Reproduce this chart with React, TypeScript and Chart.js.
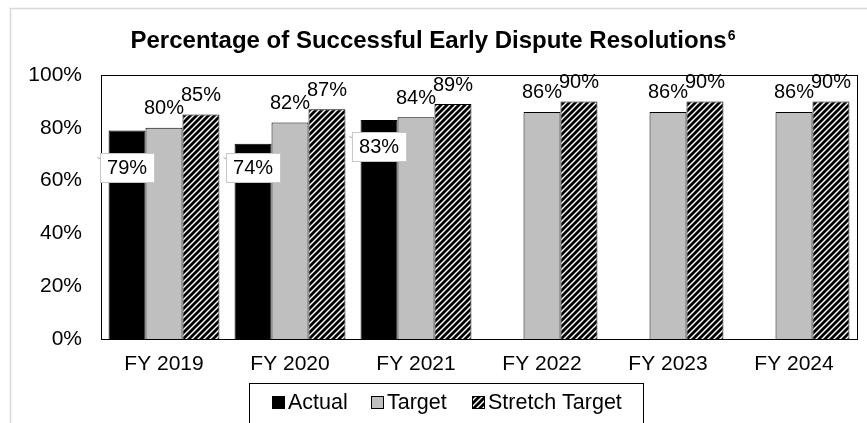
import React, { useEffect, useRef } from "react";
import { Chart, registerables } from "chart.js";

Chart.register(...registerables);

const categories = ["FY 2019", "FY 2020", "FY 2021", "FY 2022", "FY 2023", "FY 2024"];
const actual = [79, 74, 83, null, null, null];
const target = [80, 82, 84, 86, 86, 86];
const stretch = [85, 87, 89, 90, 90, 90];
const yTicks = [0, 20, 40, 60, 80, 100];
const seriesNames = ["Actual", "Target", "Stretch Target"];
const titleText = "Percentage of Successful Early Dispute Resolutions";
const titleSup = "6";

const FONT = "'Liberation Sans', Arial, sans-serif";
const GRAY = "#bfbfbf";
const actualLabelDy = [37, 24, 27];

function makeHatch(): CanvasPattern | string {
  const c = document.createElement("canvas");
  const s = 6;
  c.width = s;
  c.height = s;
  const g = c.getContext("2d");
  if (!g) return "#000";
  g.fillStyle = "#fff";
  g.fillRect(0, 0, s, s);
  g.strokeStyle = "#000";
  g.lineWidth = 2.8;
  g.beginPath();
  g.moveTo(0, s);
  g.lineTo(s, 0);
  g.moveTo(-s, s);
  g.lineTo(s, -s);
  g.moveTo(0, 2 * s);
  g.lineTo(2 * s, 0);
  g.stroke();
  const p = g.createPattern(c, "repeat");
  return p || "#000";
}

export default function App() {
  const ref = useRef<HTMLCanvasElement | null>(null);

  useEffect(() => {
    if (!ref.current) return;
    const hatch = makeHatch();

    const decor = {
      id: "decor",
      beforeDraw(chart: any) {
        const ctx = chart.ctx;
        ctx.save();
        ctx.fillStyle = "#fff";
        ctx.fillRect(0, 0, chart.width, chart.height);
        ctx.strokeStyle = "#d9d9d9";
        ctx.lineWidth = 1.5;
        ctx.strokeRect(10.5, 8.5, chart.width + 20, chart.height + 20);
        ctx.restore();
      },
      afterDatasetsDraw(chart: any) {
        const ctx = chart.ctx;
        const a = chart.chartArea;
        ctx.save();
        // plot border
        ctx.strokeStyle = "#000";
        ctx.lineWidth = 1;
        ctx.strokeRect(Math.round(a.left) + 0.5, Math.round(a.top) + 0.5, Math.round(a.right - a.left), Math.round(a.bottom - a.top));

        ctx.font = `20px ${FONT}`;
        ctx.textAlign = "center";
        ctx.textBaseline = "middle";
        ctx.fillStyle = "#000";
        // target & stretch labels
        [1, 2].forEach((di) => {
          const meta = chart.getDatasetMeta(di);
          const data = chart.data.datasets[di].data;
          meta.data.forEach((el: any, i: number) => {
            if (data[i] == null) return;
            ctx.fillText(`${data[i]}%`, el.x, el.y - 19);
          });
        });
        // actual labels in boxes
        const m0 = chart.getDatasetMeta(0);
        m0.data.forEach((el: any, i: number) => {
          const v = actual[i];
          if (v == null) return;
          const txt = `${v}%`;
          const w = 54;
          const h = 29;
          const cx = el.x;
          const cy = el.y + actualLabelDy[i];
          const bx = Math.round(cx - w / 2) + 0.5;
          const by = Math.round(cy - h / 2) + 0.5;
          ctx.strokeStyle = "#a6a6a6";
          ctx.lineWidth = 1;
          ctx.beginPath();
          ctx.moveTo(bx - 3, by + 4);
          ctx.lineTo(bx + 8, by + 9);
          ctx.stroke();
          ctx.fillStyle = "#fff";
          ctx.fillRect(bx, by, w, h);
          ctx.strokeStyle = "#c8c8c8";
          ctx.strokeRect(bx, by, w, h);
          ctx.fillStyle = "#000";
          ctx.fillText(txt, cx, cy + 1);
        });

        // title
        ctx.textBaseline = "alphabetic";
        ctx.font = `bold 24px ${FONT}`;
        const tw = ctx.measureText(titleText).width;
        ctx.font = `bold 14px ${FONT}`;
        const sw = ctx.measureText(titleSup).width;
        const total = tw + 1 + sw;
        const tx = 433 - total / 2;
        ctx.textAlign = "left";
        ctx.font = `bold 24px ${FONT}`;
        ctx.fillText(titleText, tx, 48);
        ctx.font = `bold 14px ${FONT}`;
        ctx.fillText(titleSup, tx + tw + 1, 40);

        // legend
        ctx.textBaseline = "middle";
        const lx = 249.5;
        const ly = 383.5;
        ctx.strokeStyle = "#000";
        ctx.strokeRect(lx, ly, 394, 60);
        const items = [
          { x: 272, fill: "#000" as any },
          { x: 371, fill: GRAY as any },
          { x: 472, fill: hatch as any },
        ];
        ctx.font = `21.5px ${FONT}`;
        items.forEach((it, k) => {
          const sy = 396;
          ctx.fillStyle = it.fill;
          ctx.fillRect(it.x, sy, 13, 13);
          ctx.strokeStyle = "#000";
          ctx.strokeRect(it.x + 0.5, sy + 0.5, 12, 12);
          ctx.fillStyle = "#000";
          ctx.textAlign = "left";
          ctx.fillText(seriesNames[k], it.x + 16, 403);
        });
        ctx.restore();
      },
    };

    const chart = new Chart(ref.current, {
      type: "bar",
      data: {
        labels: categories,
        datasets: [
          { label: seriesNames[0], data: actual as any, backgroundColor: "#000", borderColor: "#000", borderWidth: 1 },
          { label: seriesNames[1], data: target, backgroundColor: GRAY, borderColor: "#000", borderWidth: 1 },
          { label: seriesNames[2], data: stretch, backgroundColor: hatch as any, borderColor: "#000", borderWidth: 1 },
        ],
      },
      options: {
        animation: false,
        responsive: true,
        maintainAspectRatio: false,
        devicePixelRatio: 1,
        layout: { padding: { left: 0, right: 10, top: 75, bottom: 44 } },
        datasets: { bar: { categoryPercentage: 0.88, barPercentage: 1 } },
        plugins: {
          legend: { display: false },
          title: { display: false },
          tooltip: { enabled: false },
        },
        scales: {
          x: {
            grid: { display: false, drawTicks: false },
            border: { display: false },
            ticks: { color: "#000", font: { family: FONT, size: 21 }, padding: 13, maxRotation: 0 },
            afterFit(scale: any) {
              scale.height = 40;
            },
          },
          y: {
            min: 0,
            max: 100,
            afterBuildTicks(scale: any) {
              scale.ticks = yTicks.map((v) => ({ value: v }));
            },
            grid: { display: false, drawTicks: false },
            border: { display: false },
            ticks: {
              color: "#000",
              font: { family: FONT, size: 21 },
              padding: 19,
              callback: (v: any) => `${v}%`,
            },
            afterFit(scale: any) {
              scale.width = 101;
            },
          },
        },
      },
      plugins: [decor],
    });
    return () => chart.destroy();
  }, []);

  return (
    <div style={{ position: "absolute", left: 0, top: 0, width: 867, height: 423 }}>
      <canvas ref={ref} />
    </div>
  );
}
